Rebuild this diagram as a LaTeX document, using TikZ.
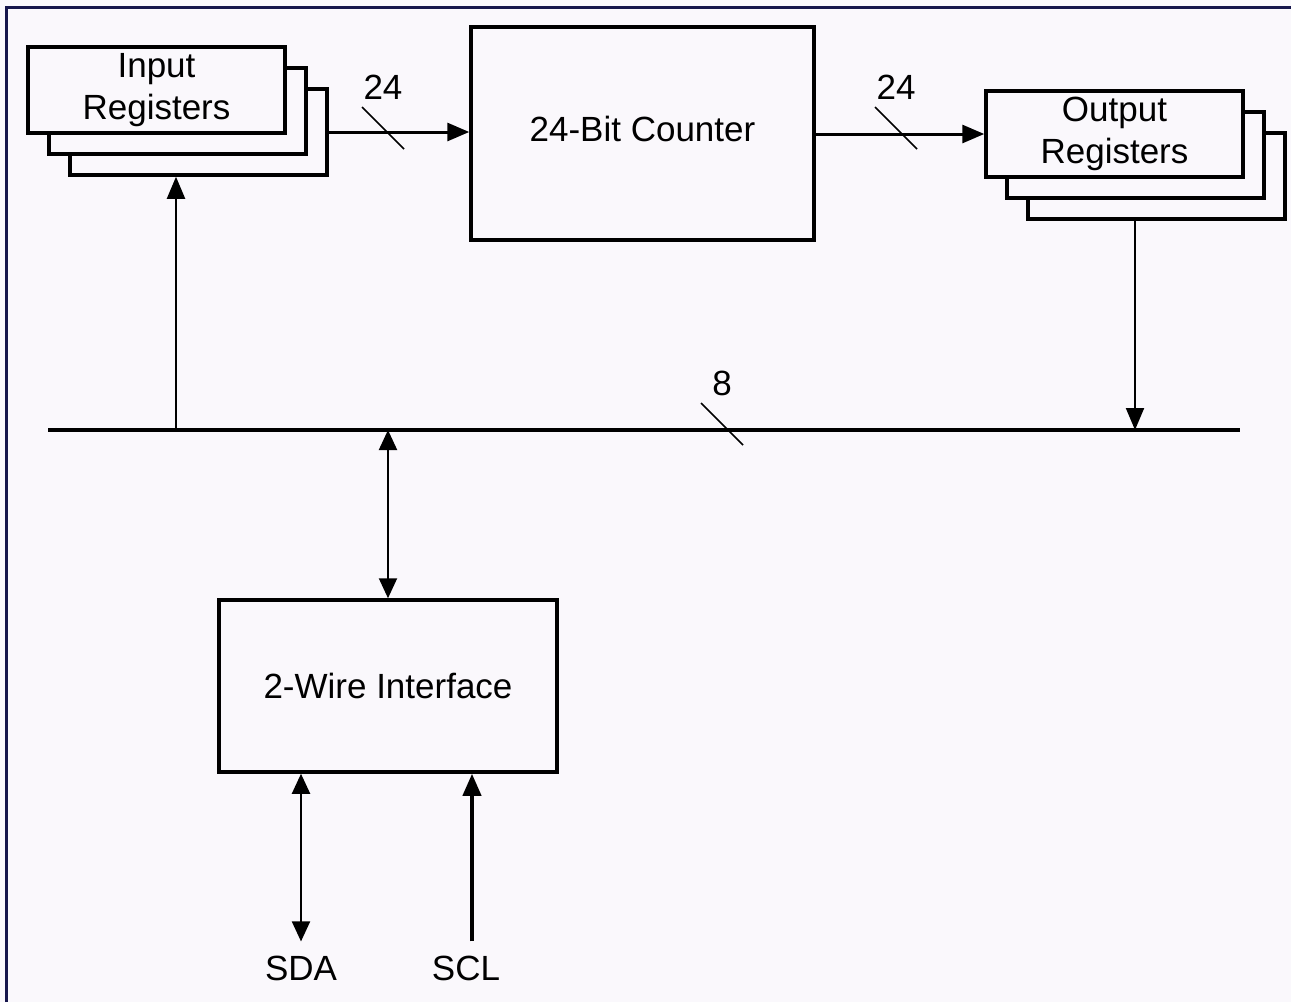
\documentclass[tikz,border=0pt]{standalone}
\usepackage{fontspec}
\setmainfont{Liberation Sans}
\usepackage{xcolor}
\usetikzlibrary{arrows.meta,positioning}

\definecolor{bgcol}{HTML}{FAF8FC}
\definecolor{framecol}{HTML}{16164C}

\begin{document}
\begin{tikzpicture}[
    x=1pt, y=-1pt,
    font=\fontsize{35}{42}\selectfont,
    block/.style={draw, rectangle, line width=3.5pt, fill=bgcol, align=center},
    reg/.style={block, minimum width=257pt, minimum height=86pt},
    lbl/.style={inner sep=0pt},
    arrow/.style={-{Triangle[length=22pt,width=18pt]}, line width=3pt},
    thin/.style={line width=2pt},
    dbl/.style={{Triangle[length=20pt,width=18pt]}-{Triangle[length=20pt,width=18pt]}, line width=2pt},
    bus/.style={line width=4pt},
    tick/.style={line width=1.5pt}
]

    \useasboundingbox (0,0) rectangle (1291,1002);
    \fill[bgcol] (0,0) rectangle (1291,1002);
    \draw[framecol, line width=3pt] (6,1002) -- (6,7) -- (1291,7);

    % register stacks
    \node[reg] (inreg3) at (198.5,132) {};
    \node[reg] (inreg2) at ([shift={(-21,-21)}]inreg3) {};
    \node[reg] (inreg) at ([shift={(-21,-21)}]inreg2) {Input\\Registers};

    \node[block, minimum width=343pt, minimum height=213pt] (counter) at (642.5,133.5) {\raisebox{10pt}{24-Bit Counter}};

    \node[reg] (outreg3) at (1156.5,176) {};
    \node[reg] (outreg2) at ([shift={(-21,-21)}]outreg3) {};
    \node[reg] (outreg) at ([shift={(-21,-21)}]outreg2) {Output\\Registers};

    \node[block, minimum width=338pt, minimum height=172pt] (wire) at (388,686) {2-Wire Interface};

    % bus
    \coordinate (busL) at (48,430);
    \coordinate (busR) at (1240,430);
    \coordinate (tapin) at (176,430);
    \coordinate (tapout) at (1135,430);
    \draw[bus] (busL) -- (busR);

    \draw[arrow] (inreg3.east) -- (inreg3.east -| counter.west);
    \draw[arrow] (counter.east |- outreg.west) -- (outreg.west);

    \draw[arrow, thin] (tapin) -- (tapin |- inreg3.south);
    \draw[arrow, thin] (tapout |- outreg3.south) -- (tapout);
    \draw[dbl] (wire.north |- busL) -- (wire.north);

    % bus width marks
    \coordinate (ticka) at (383,128);
    \coordinate (tickb) at (896,128);
    \coordinate (tickc) at (722,424);
    \foreach \c in {ticka,tickb,tickc}
        \draw[tick] ([shift={(-21,-21)}]\c) -- ([shift={(21,21)}]\c);

    \node[lbl, above=28pt of ticka] (wa) {24};
    \node[lbl, above=28pt of tickb] (wb) {24};
    \node[lbl, above=28pt of tickc] (wc) {8};

    % pins
    \node[lbl] (sda) at (301,968) {SDA};
    \node[lbl] (scl) at (466,968) {SCL};
    \coordinate (sdaend) at ([yshift=14pt]sda.north);
    \coordinate (sclend) at ([xshift=6pt,yshift=14pt]scl.north);

    \draw[dbl] (wire.south -| sdaend) -- (sdaend);
    \draw[arrow, line width=4pt] (sclend) -- (sclend |- wire.south);

\end{tikzpicture}
\end{document}
